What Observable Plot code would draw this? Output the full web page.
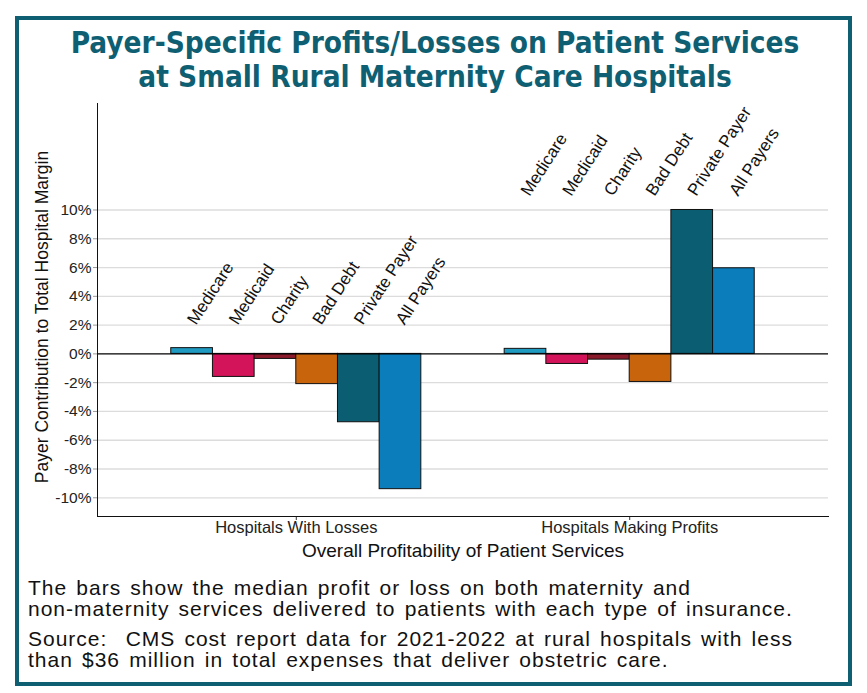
<!DOCTYPE html>
<html>
<head>
<meta charset="utf-8">
<script src="https://cdn.jsdelivr.net/npm/d3@7"></script>
<script src="https://cdn.jsdelivr.net/npm/@observablehq/plot@0.6"></script>
<style>
  html, body { margin: 0; padding: 0; background: #fff; }
  body { width: 867px; height: 693px; position: relative; overflow: hidden; font-family: "Liberation Sans", Arial, sans-serif; }
  #box { position: absolute; left: 15px; top: 16px; width: 829px; height: 662px; border: 4px solid #0f5f73; }
  #title { position: absolute; left: 0; top: 26px; width: 870px; text-align: center;
    font-family: "Liberation Sans Narrow", "DejaVu Sans Condensed", sans-serif; font-weight: bold;
    font-size: 29.5px; line-height: 34px; color: #0f5f73; }
  #chart { position: absolute; left: 0; top: 95px; }
  .cap { position: absolute; left: 28px; font-size: 21px; line-height: 21px; letter-spacing: 1px; word-spacing: 2.3px; color: #111; white-space: nowrap; }
</style>
</head>
<body>
<div id="box"></div>
<div id="title">Payer-Specific Profits/Losses on Patient Services<br>at Small Rural Maternity Care Hospitals</div>
<div id="chart"></div>
<div class="cap" style="top:577px">The bars show the median profit or loss on both maternity and</div>
<div class="cap" style="top:598px">non-maternity services delivered to patients with each type of insurance.</div>
<div class="cap" style="top:628px">Source:&nbsp; CMS cost report data for 2021-2022 at rural hospitals with less</div>
<div class="cap" style="top:649px">than $36 million in total expenses that deliver obstetric care.</div>
<script>
const groups = ["Hospitals With Losses", "Hospitals Making Profits"];
const payers = ["Medicare", "Medicaid", "Charity", "Bad Debt", "Private Payer", "All Payers"];
const lossValues = [0.4, -1.6, -0.35, -2.1, -4.75, -9.4];
const profitValues = [0.35, -0.7, -0.4, -1.95, 10.0, 5.95];
const payerColors = ["#1f9ac0", "#d4145a", "#8b1a2b", "#c8640c", "#0b5d72", "#0a7dba"];
const yTicks = [-10, -8, -6, -4, -2, 0, 2, 4, 6, 8, 10];
const labelHeights = [1.95, 10.9];
const xTitle = "Overall Profitability of Patient Services";
const yTitle = "Payer Contribution to Total Hospital Margin";

// slot layout: each payer is one slot, groups separated by two empty slots
const gapSlots = 2;
const groupStride = payers.length + gapSlots;
const groupValues = [lossValues, profitValues];
const data = groups.flatMap((g, gi) => payers.map((p, i) => ({
  group: g, payer: p, value: groupValues[gi][i],
  x1: gi * groupStride + i, x2: gi * groupStride + i + 1
})));
const groupCenters = groups.map((g, gi) => gi * groupStride + payers.length / 2);
const outer = 1.77;

const chart = Plot.plot({
  width: 867, height: 470,
  marginLeft: 97, marginRight: 39, marginTop: 8, marginBottom: 49,
  x: {domain: [-outer, groups.length * groupStride - gapSlots + outer], axis: null},
  y: {domain: [-11.3, 17.4], axis: null},
  color: {domain: payers, range: payerColors},
  style: {fontFamily: "Liberation Sans, Arial, sans-serif", fontSize: "14px", color: "#222", background: "transparent"},
  marks: [
    Plot.ruleY(yTicks.filter(d => d !== 0), {stroke: "#dcdcdc", strokeWidth: 1.3}),
    Plot.rectY(data, {x1: "x1", x2: "x2", y: "value", fill: "payer", stroke: "#111", strokeWidth: 1}),
    Plot.ruleY([0], {stroke: "#000", strokeWidth: 1.2}),
    Plot.text(data, {x: d => (d.x1 + d.x2) / 2, y: d => labelHeights[groups.indexOf(d.group)], text: "payer",
      rotate: -57, textAnchor: "start", lineAnchor: "bottom", fontSize: 17, dx: 4, fill: "#111"}),
    Plot.axisY({ticks: yTicks, tickFormat: d => d + "%", tickSize: 4, tickPadding: 2, fontSize: 15.5,
      stroke: "#999", fill: "#222", anchor: "left", label: null}),
    Plot.axisX({ticks: groupCenters, tickFormat: d => groups[groupCenters.indexOf(d)], anchor: "bottom",
      tickSize: 4, tickPadding: 1, label: null, fontSize: 16.5, fill: "#222", stroke: "#333"}),
    Plot.frame({anchor: "left", stroke: "#111"}),
    Plot.frame({anchor: "bottom", stroke: "#111"}),
    Plot.text([xTitle], {text: d => d, frameAnchor: "bottom", textAnchor: "middle", dy: 40, lineAnchor: "bottom", fontSize: 19, fill: "#111"}),
    Plot.text([yTitle], {text: d => d, frameAnchor: "left", textAnchor: "middle", lineAnchor: "middle", rotate: -90, dx: -55, dy: 7, fontSize: 17.5, fill: "#111"})
  ]
});
document.getElementById("chart").appendChild(chart);
</script>
</body>
</html>
